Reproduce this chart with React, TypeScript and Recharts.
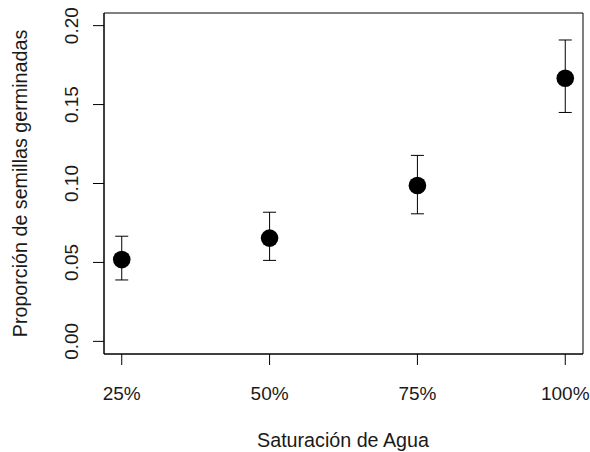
import React from "react";
import {
  ComposedChart,
  Scatter,
  XAxis,
  YAxis,
  ErrorBar,
  ReferenceArea,
} from "recharts";

const categories = ["25%", "50%", "75%", "100%"];
const positions = [1, 2, 3, 4];
const means = [0.0518, 0.0654, 0.0987, 0.1667];
const lowers = [0.0389, 0.0513, 0.0808, 0.145];
const uppers = [0.0666, 0.0818, 0.1178, 0.1909];
const yTicks = [0, 0.05, 0.1, 0.15, 0.2];

const data = positions.map((p, i) => ({
  x: p,
  y: means[i],
  err: [means[i] - lowers[i], uppers[i] - means[i]],
}));

const FONT = "'Liberation Sans', Arial, sans-serif";
const TEXT = "#1a1a1a";

const XTick = (props: any) => {
  const { x, y, payload } = props;
  const idx = positions.indexOf(payload.value);
  return (
    <text x={x} y={y + 33} textAnchor="middle" fontFamily={FONT} fontSize={19} fill={TEXT}>
      {categories[idx]}
    </text>
  );
};

const YTick = (props: any) => {
  const { y, payload } = props;
  const bx = 78;
  return (
    <text
      x={bx}
      y={y}
      transform={`rotate(-90, ${bx}, ${y})`}
      textAnchor="middle"
      fontFamily={FONT}
      fontSize={19}
      fill={TEXT}
    >
      {payload.value.toFixed(2)}
    </text>
  );
};

const Dot = (props: any) => {
  const { cx, cy } = props;
  return <circle cx={cx} cy={cy} r={8.8} fill="#000" />;
};

export default function App() {
  return (
    <div style={{ position: "relative", width: 590, height: 452 }}>
      <style>{"body{margin:0;overflow:hidden}"}</style>
      <ComposedChart
        width={590}
        height={452}
        data={data}
        margin={{ top: 13, right: 7, bottom: 0, left: 44 }}
      >
        <XAxis
          dataKey="x"
          type="number"
          domain={[0.88, 4.12]}
          ticks={positions}
          tick={<XTick />}
          tickSize={11}
          tickLine={{ stroke: "#000" }}
          axisLine={{ stroke: "#000" }}
          height={98}
          interval={0}
        />
        <YAxis
          type="number"
          domain={[-0.008, 0.208]}
          ticks={yTicks}
          tick={<YTick />}
          tickSize={11}
          tickLine={{ stroke: "#000" }}
          axisLine={{ stroke: "#000" }}
          width={60}
          interval={0}
          allowDataOverflow
        />
        <ReferenceArea
          x1={0.88}
          x2={4.12}
          y1={-0.008}
          y2={0.208}
          fill="none"
          stroke="#000"
          strokeWidth={1}
          fillOpacity={0}
          ifOverflow="visible"
        />
        <Scatter dataKey="y" shape={<Dot />} isAnimationActive={false}>
          <ErrorBar dataKey="err" direction="y" width={6.5} stroke="#000" strokeWidth={1} isAnimationActive={false} />
        </Scatter>
      </ComposedChart>
      <svg
        width={590}
        height={452}
        style={{ position: "absolute", left: 0, top: 0, pointerEvents: "none" }}
      >
        <text x={343} y={447} textAnchor="middle" fontFamily={FONT} fontSize={19.7} fill={TEXT}>
          Saturación de Agua
        </text>
        <text
          x={27}
          y={183.5}
          transform="rotate(-90, 27, 183.5)"
          textAnchor="middle"
          fontFamily={FONT}
          fontSize={19.7}
          fill={TEXT}
        >
          Proporción de semillas germinadas
        </text>
      </svg>
    </div>
  );
}
